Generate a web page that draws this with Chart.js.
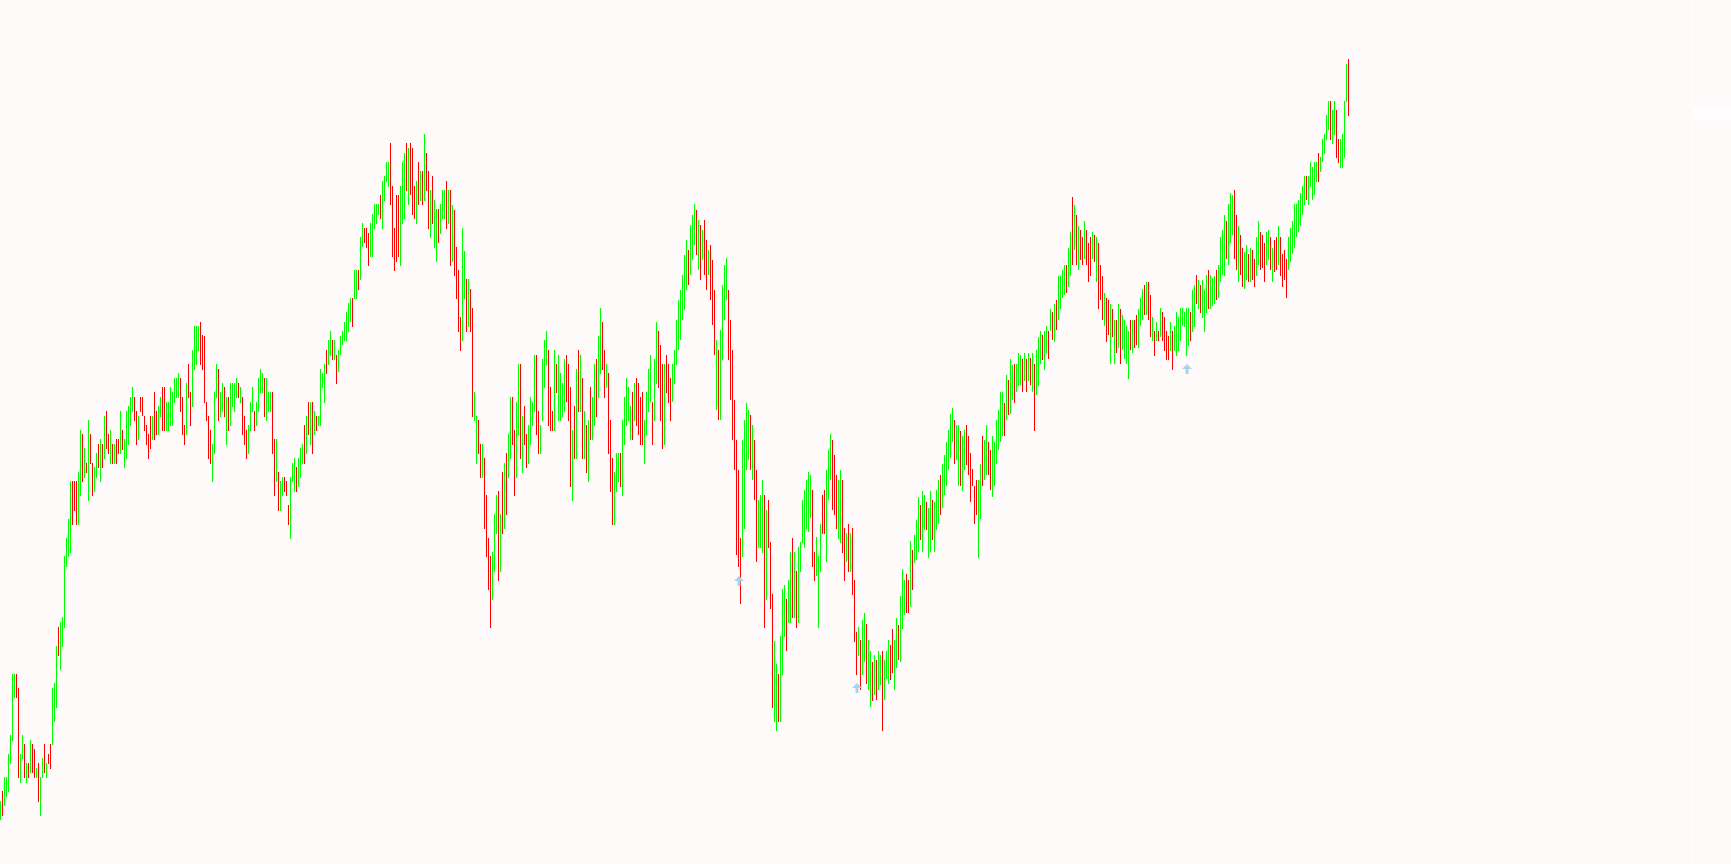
<!DOCTYPE html>
<html>
<head>
<meta charset="utf-8">
<title>Price bars</title>
<script src="https://cdn.jsdelivr.net/npm/chart.js@4.4.1/dist/chart.umd.min.js"></script>
<style>
  html, body { margin: 0; padding: 0; background: #fffafa; overflow: hidden; }
  #wrap { width: 1731px; height: 864px; }
</style>
</head>
<body>
<div id="wrap"><canvas id="chart" width="1731" height="864"></canvas></div>
<script>
// bar highs / lows in points, one entry per bar
const highs = [
  199,209,223,223,246,265,326,326,326,312, 246,265,256,237,237,260,256,251,232,237,
  223,242,256,237,246,256,312,317,354,373, 378,383,444,462,481,519,519,519,519,528,
  570,566,552,537,580,566,537,533,547,556, 561,556,584,589,566,570,556,556,561,561,
  589,570,561,589,594,603,613,603,589,584, 603,603,584,575,566,584,584,608,589,594,
  603,613,613,598,598,613,608,622,622,627, 622,603,575,617,636,608,650,674,674,674,
  678,665,664,598,584,570,556,608,636,631, 608,617,613,603,603,617,617,617,622,617,
  613,603,584,570,575,598,613,589,598,622, 631,627,622,622,608,608,608,561,561,528,
  519,523,523,519,495,523,537,542,533,542, 552,556,575,584,598,598,598,589,584,584,
  631,627,636,650,660,669,660,660,645,650, 664,669,678,688,697,702,702,730,730,730,
  763,777,772,772,767,777,786,796,796,796, 805,819,824,838,838,857,814,772,805,805,
  814,838,847,857,852,857,852,814,819,838, 829,829,866,847,829,810,824,800,791,791,
  796,810,810,819,810,810,795,790,753,730, 683,772,749,721,721,711,692,608,584,580,
  556,556,542,505,462,444,448,486,505,509, 486,528,537,547,566,603,603,570,598,636,
  636,584,594,566,575,603,598,645,645,589, 575,641,660,669,650,613,589,650,636,645,
  627,617,641,645,636,613,570,594,631,650, 645,622,589,575,580,613,603,636,641,664,
  692,678,650,636,627,580,542,528,547,547, 547,580,603,622,613,594,608,617,622,617,
  603,608,580,608,631,645,598,641,678,669, 655,636,636,645,636,622,636,650,680,700,
  710,725,745,760,750,775,785,796,790,780, 775,770,780,760,750,755,740,710,660,650,
  670,715,735,742,710,680,650,600,560,530, 462,560,580,597,590,585,575,560,530,500,
  505,520,505,490,500,458,406,359,336,326, 364,411,415,401,420,448,462,448,429,453,
  458,500,510,520,528,525,510,448,463,444, 476,505,510,530,550,566,560,545,525,520,
  530,520,472,467,476,467,472,420,368,373, 360,380,387,376,360,349,338,345,340,349,
  345,349,340,349,360,355,371,360,382,375, 404,431,420,426,420,459,450,465,480,503,
  495,509,505,498,492,509,500,498,510,520, 525,536,545,558,570,586,592,580,575,575,
  569,564,570,575,564,547,531,514,520,520, 536,564,560,575,558,550,564,558,580,590,
  608,608,597,625,620,641,635,636,636,647, 645,641,647,641,647,642,647,636,650,663,
  669,665,669,674,669,691,688,696,700,724, 724,730,735,735,752,768,803,795,785,774,
  770,763,779,770,757,763,768,765,763,757, 735,724,707,702,700,696,691,680,680,696,
  691,685,680,674,669,680,680,680,685,691, 702,711,715,718,718,705,683,669,678,669,
  692,688,683,669,664,678,669,674,688,683, 692,692,688,692,692,688,710,715,725,720,
  715,720,710,725,730,725,722,724,730,735, 763,770,785,779,796,807,805,810,785,774,
  765,752,748,755,746,752,750,741,763,779, 768,765,757,768,770,763,752,760,763,774,
  763,746,750,741,763,772,779,796,796,800, 807,814,824,824,824,838,833,838,838,847,
  843,861,866,885,899,899,890,899,890,861, 861,866,899,936,941
];
const lows = [
  180,184,194,203,208,236,259,302,302,222, 217,241,222,217,222,227,227,222,222,198,
  184,222,227,222,236,231,255,278,292,344, 330,353,372,433,443,447,475,489,475,475,
  504,518,522,527,499,536,504,508,522,532, 518,532,541,551,546,536,536,536,536,546,
  546,550,532,541,555,574,588,579,555,560, 588,584,569,555,541,551,560,560,565,565,
  583,569,569,569,569,574,574,597,602,602, 588,565,555,565,602,574,593,630,635,649,
  635,630,597,579,541,536,518,546,602,579, 583,588,583,555,569,574,593,588,602,602,
  597,565,555,541,546,569,588,569,574,588, 607,607,583,579,588,588,546,504,518,489,
  489,504,508,504,475,461,518,508,508,513, 522,536,536,546,565,555,546,565,569,574,
  574,612,597,626,635,644,640,640,616,628, 645,655,659,659,668,678,673,701,701,710,
  720,753,757,752,734,743,743,771,776,785, 781,771,799,818,813,795,743,729,738,743,
  734,776,781,809,795,805,785,781,776,795, 799,795,799,809,771,762,776,752,738,757,
  766,781,781,771,776,734,738,724,701,668, 649,659,701,668,673,668,583,579,536,546,
  522,522,471,443,410,372,400,428,466,419, 428,466,471,485,522,541,555,504,522,565,
  541,527,555,532,536,555,574,588,565,546, 546,579,612,635,574,569,569,569,607,579,
  579,583,588,598,579,513,499,541,541,588, 588,541,541,527,518,560,560,574,583,602,
  626,630,602,612,546,508,475,475,508,518, 513,504,555,574,579,560,560,579,574,565,
  555,555,536,565,588,598,555,579,616,612, 579,551,555,607,597,579,598,616,635,650,
  660,680,690,710,715,725,740,755,745,730, 720,740,725,710,725,700,675,645,590,580,
  580,640,680,700,640,600,560,530,445,433, 396,443,471,530,540,530,520,500,438,452,
  452,447,372,400,452,391,292,278,269,278, 278,325,363,349,377,377,382,382,372,377,
  428,457,452,471,468,482,433,419,424,372, 428,466,466,438,500,520,490,485,471,461,
  457,447,419,438,428,428,405,358,325,344, 310,325,338,316,310,293,299,305,300,310,
  315,269,300,321,316,320,327,310,332,340, 338,371,385,387,387,393,410,437,440,448,
  460,448,470,470,442,448,460,448,470,476, 485,492,505,514,530,542,558,536,540,514,
  514,509,530,535,525,498,514,476,485,442, 481,514,520,525,525,510,503,514,536,550,
  558,564,564,580,585,586,600,597,608,614, 615,608,619,608,619,615,608,569,605,614,
  636,640,630,647,641,669,660,658,670,680, 691,702,705,707,713,724,735,750,735,730,
  740,735,741,735,718,724,741,738,718,691, 700,680,674,658,665,636,663,636,647,652,
  636,650,641,636,621,650,647,652,655,652, 674,680,685,685,680,663,659,644,659,659,
  663,659,649,640,640,649,630,649,644,649, 659,674,673,644,654,659,668,673,696,691,
  687,682,668,687,691,691,694,696,700,702, 718,725,724,741,735,757,765,741,730,718,
  725,713,711,720,718,718,720,713,724,735, 730,732,718,735,740,730,718,728,730,735,
  724,713,720,702,730,738,746,752,763,768, 774,785,795,800,795,813,800,805,818,818,
  828,838,846,860,870,860,856,865,842,837, 832,832,842,898,884
];
// 1 = bar closed up (green), 0 = closed down (red)
const up = [
  1,0,1,1,1,1,1,1,0,0, 1,1,0,1,0,1,0,0,1,0, 1,1,0,1,0,0,1,1,1,0, 1,1,1,1,1,1,0,0,0,1,
  1,0,1,0,1,0,0,1,1,0, 1,0,1,0,0,1,0,1,0,0, 1,0,1,1,1,1,1,0,0,1, 0,0,0,0,0,0,1,0,0,1,
  1,0,0,1,1,1,1,1,1,1, 0,0,0,1,0,0,1,1,1,1, 0,0,0,0,0,0,1,1,1,0, 1,1,0,1,0,1,1,1,1,0,
  1,0,0,0,1,1,1,0,1,1, 1,1,0,1,1,1,0,0,1,0, 1,1,0,0,0,1,1,1,0,1, 1,1,0,1,0,1,0,1,0,1,
  1,1,1,0,1,1,0,1,0,1, 1,1,1,1,1,1,0,1,1,0, 1,1,0,0,0,1,1,1,1,1, 0,1,1,1,1,0,0,0,0,0,
  1,1,1,0,1,0,0,0,1,0, 1,0,1,0,0,1,0,1,1,0, 1,1,1,0,1,0,1,0,0,0, 0,1,1,0,1,0,0,1,1,0,
  0,1,0,0,0,0,1,1,1,0, 1,0,1,0,1,1,0,0,1,1, 0,1,0,0,1,1,1,1,0,0, 1,1,1,1,0,0,0,1,0,1,
  1,1,1,0,0,0,1,0,1,0, 1,0,1,0,1,0,1,1,0,1, 1,0,0,1,0,0,0,1,1,1, 0,1,1,1,1,1,0,1,0,0,
  0,0,1,1,1,1,0,1,1,0, 0,0,1,0,0,0,1,1,1,1, 1,1,1,1,0,1,1,1,0,1, 0,1,0,0,1,0,0,0,1,0,
  1,1,1,1,0,0,0,0,0,0, 0,1,1,1,1,0,1,0,0,1, 1,1,0,1,0,0,0,1,1,0, 1,1,1,0,1,1,0,1,0,1,
  1,1,1,1,1,1,0,0,1,1, 1,0,0,1,1,1,0,0,0,1, 1,0,0,1,0,1,0,0,0,1, 0,1,1,0,1,1,0,1,0,1,
  1,0,1,1,1,0,0,1,1,0, 1,1,1,0,0,1,0,1,1,1, 0,1,1,0,1,1,0,1,1,1, 0,1,1,1,1,1,1,0,1,1,
  0,1,1,0,0,0,0,0,0,1, 1,0,1,1,0,0,1,1,1,1, 1,1,0,1,0,1,1,0,1,1, 1,0,1,0,1,0,1,0,1,1,
  1,0,1,1,0,1,0,1,0,1, 1,1,1,0,1,1,0,1,0,1, 0,0,1,0,0,0,1,0,1,0, 0,0,1,0,0,1,0,1,0,1,
  0,1,1,1,1,0,1,0,0,1, 1,1,0,1,0,0,1,0,1,0, 1,0,0,0,0,1,0,1,1,1, 1,1,1,1,1,0,1,1,0,1,
  0,1,1,1,0,1,1,1,0,1, 1,1,1,0,1,1,1,0,0,1, 0,0,1,1,0,1,0,0,1,1, 0,0,0,1,1,0,1,0,0,1,
  0,0,0,0,1,1,1,1,1,1, 1,1,1,0,1,1,1,1,1,0, 1,1,1,1,1,0,1,1,0,0, 1,1,1,1,0
];
// signal arrows: bar index and level
const arrowBars = [369, 428, 593];
const arrowLevels = [419, 312, 631];
// last price tag on the right edge
const lastPrice = "0.91755";
const lastLevel = 886;

const bars = highs.map((h, i) => ({ x: i, y: [lows[i], h] }));

const backdrop = {
  id: "backdrop",
  beforeDraw(chart) {
    const ctx = chart.ctx;
    ctx.save();
    ctx.fillStyle = "#fffafa";
    ctx.fillRect(0, 0, chart.width, chart.height);
    ctx.restore();
  }
};

const overlay = {
  id: "overlay",
  afterDatasetsDraw(chart) {
    const ctx = chart.ctx;
    const xs = chart.scales.x, ys = chart.scales.y;
    ctx.save();
    // arrows
    ctx.fillStyle = "#a9d3ec";
    arrowBars.forEach((b, k) => {
      const cx = Math.round(xs.getPixelForValue(b));
      const cy = Math.round(ys.getPixelForValue(arrowLevels[k]));
      ctx.beginPath();
      ctx.moveTo(cx, cy - 5);
      ctx.lineTo(cx + 5, cy);
      ctx.lineTo(cx + 1.5, cy);
      ctx.lineTo(cx + 1.5, cy + 5);
      ctx.lineTo(cx - 1.5, cy + 5);
      ctx.lineTo(cx - 1.5, cy);
      ctx.lineTo(cx - 5, cy);
      ctx.closePath();
      ctx.fill();
    });
    // faint price scale separator and tag
    ctx.fillStyle = "#ffffff";
    ctx.fillRect(1691, 0, 1, chart.height);
    const py = Math.round(ys.getPixelForValue(lastLevel));
    ctx.fillStyle = "#fffdfd";
    ctx.fillRect(1693, py - 6, 38, 13);
    ctx.fillStyle = "#ffffff";
    ctx.font = "10px 'DejaVu Sans'";
    ctx.textBaseline = "middle";
    ctx.fillText(lastPrice, 1695, py);
    ctx.restore();
  }
};

new Chart(document.getElementById("chart"), {
  type: "bar",
  data: {
    datasets: [{
      data: bars,
      backgroundColor: up.map(u => u ? "#00ff00" : "#ff0000"),
      barThickness: 1,
      inflateAmount: 0,
      borderWidth: 0,
      borderSkipped: false
    }]
  },
  options: {
    responsive: false,
    devicePixelRatio: 1,
    animation: false,
    events: [],
    layout: { padding: 0 },
    plugins: { legend: { display: false }, tooltip: { enabled: false } },
    scales: {
      x: { type: "linear", offset: false, min: -0.25, max: 865.25, display: false },
      y: { min: 136, max: 1000, display: false }
    }
  },
  plugins: [backdrop, overlay]
});
</script>
</body>
</html>
